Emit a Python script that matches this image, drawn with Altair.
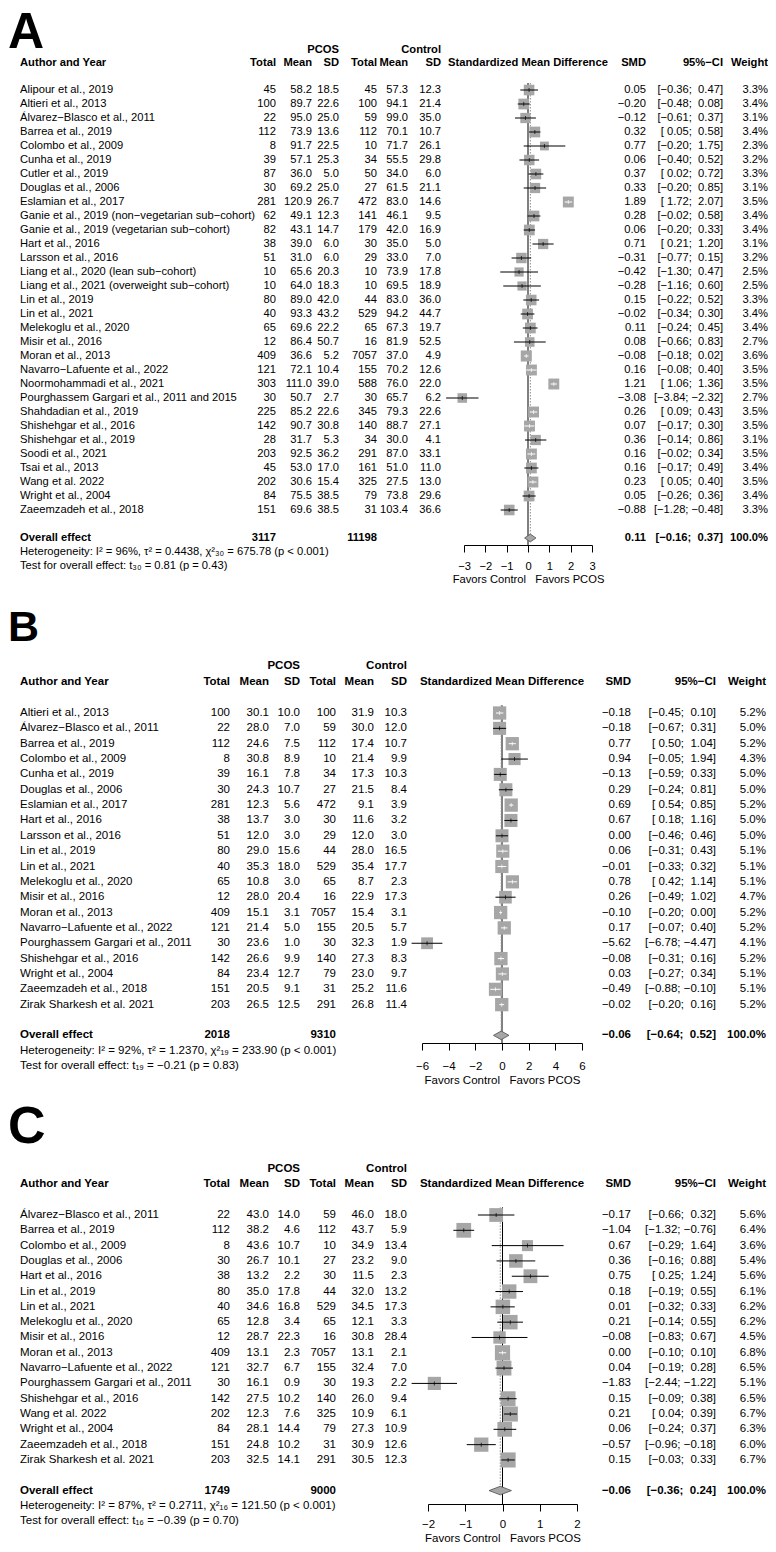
import math
import altair as alt
import pandas as pd

FONT = "Liberation Sans"
LETTER_FONT = "Liberation Sans"
M = "\u2212"
GRAY = "#a6a6a6"
NB = "\u00a0"

# ---------------- Panel A ----------------
A_names = ["Alipour et al., 2019", "Altieri et al., 2013", "Álvarez−Blasco et al., 2011", "Barrea et al., 2019",
           "Colombo et al., 2009", "Cunha et al., 2019", "Cutler et al., 2019", "Douglas et al., 2006",
           "Eslamian et al., 2017", "Ganie et al., 2019 (non−vegetarian sub−cohort)",
           "Ganie et al., 2019 (vegetarian sub−cohort)", "Hart et al., 2016", "Larsson et al., 2016",
           "Liang et al., 2020 (lean sub−cohort)", "Liang et al., 2021 (overweight sub−cohort)", "Lin et al., 2019",
           "Lin et al., 2021", "Melekoglu et al., 2020", "Misir et al., 2016", "Moran et al., 2013",
           "Navarro−Lafuente et al., 2022", "Noormohammadi et al., 2021",
           "Pourghassem Gargari et al., 2011 and 2015", "Shahdadian et al., 2019", "Shishehgar et al., 2016",
           "Shishehgar et al., 2019", "Soodi et al., 2021", "Tsai et al., 2013", "Wang et al. 2022",
           "Wright et al., 2004", "Zaeemzadeh et al., 2018"]
A_pcos_n = [45, 100, 22, 112, 8, 39, 87, 30, 281, 62, 82, 38, 51, 10, 10, 80, 40, 65, 12, 409, 121, 303, 30, 225, 142, 28, 203, 45, 202, 84, 151]
A_pcos_mean = [58.2, 89.7, 95.0, 73.9, 91.7, 57.1, 36.0, 69.2, 120.9, 49.1, 43.1, 39.0, 31.0, 65.6, 64.0, 89.0, 93.3, 69.6, 86.4, 36.6, 72.1, 111.0, 50.7, 85.2, 90.7, 31.7, 92.5, 53.0, 30.6, 75.5, 69.6]
A_pcos_sd = [18.5, 22.6, 25.0, 13.6, 22.5, 25.3, 5.0, 25.0, 26.7, 12.3, 14.7, 6.0, 6.0, 20.3, 18.3, 42.0, 43.2, 22.2, 50.7, 5.2, 10.4, 39.0, 2.7, 22.6, 30.8, 5.3, 36.2, 17.0, 15.4, 38.5, 38.5]
A_ctrl_n = [45, 100, 59, 112, 10, 34, 50, 27, 472, 141, 179, 30, 29, 10, 10, 44, 529, 65, 16, 7057, 155, 588, 30, 345, 140, 34, 291, 161, 325, 79, 31]
A_ctrl_mean = [57.3, 94.1, 99.0, 70.1, 71.7, 55.5, 34.0, 61.5, 83.0, 46.1, 42.0, 35.0, 33.0, 73.9, 69.5, 83.0, 94.2, 67.3, 81.9, 37.0, 70.2, 76.0, 65.7, 79.3, 88.7, 30.0, 87.0, 51.0, 27.5, 73.8, 103.4]
A_ctrl_sd = [12.3, 21.4, 35.0, 10.7, 26.1, 29.8, 6.0, 21.1, 14.6, 9.5, 16.9, 5.0, 7.0, 17.8, 18.9, 36.0, 44.7, 19.7, 52.5, 4.9, 12.6, 22.0, 6.2, 22.6, 27.1, 4.1, 33.1, 11.0, 13.0, 29.6, 36.6]
A_smd = [0.05, -0.20, -0.12, 0.32, 0.77, 0.06, 0.37, 0.33, 1.89, 0.28, 0.06, 0.71, -0.31, -0.42, -0.28, 0.15, -0.02, 0.11, 0.08, -0.08, 0.16, 1.21, -3.08, 0.26, 0.07, 0.36, 0.16, 0.16, 0.23, 0.05, -0.88]
A_lo = [-0.36, -0.48, -0.61, 0.05, -0.20, -0.40, 0.02, -0.20, 1.72, -0.02, -0.20, 0.21, -0.77, -1.30, -1.16, -0.22, -0.34, -0.24, -0.66, -0.18, -0.08, 1.06, -3.84, 0.09, -0.17, -0.14, -0.02, -0.17, 0.05, -0.26, -1.28]
A_hi = [0.47, 0.08, 0.37, 0.58, 1.75, 0.52, 0.72, 0.85, 2.07, 0.58, 0.33, 1.20, 0.15, 0.47, 0.60, 0.52, 0.30, 0.45, 0.83, 0.02, 0.40, 1.36, -2.32, 0.43, 0.30, 0.86, 0.34, 0.49, 0.40, 0.36, -0.48]
A_weight = [3.3, 3.4, 3.1, 3.4, 2.3, 3.2, 3.3, 3.1, 3.5, 3.4, 3.4, 3.1, 3.2, 2.5, 2.5, 3.3, 3.4, 3.4, 2.7, 3.6, 3.5, 3.5, 2.7, 3.5, 3.5, 3.1, 3.5, 3.4, 3.5, 3.4, 3.3]
A_overall = [0.11, -0.16, 0.37]
A_totals = [3117, 11198]
A_het = "Heterogeneity: I² = 96%, τ² = 0.4438, χ²₃₀ = 675.78 (p < 0.001)"
A_test = "Test for overall effect: t₃₀ = 0.81 (p = 0.43)"
A_ticks = [-3, -2, -1, 0, 1, 2, 3]

# ---------------- Panel B ----------------
B_names = ["Altieri et al., 2013", "Álvarez−Blasco et al., 2011", "Barrea et al., 2019", "Colombo et al., 2009",
           "Cunha et al., 2019", "Douglas et al., 2006", "Eslamian et al., 2017", "Hart et al., 2016",
           "Larsson et al., 2016", "Lin et al., 2019", "Lin et al., 2021", "Melekoglu et al., 2020",
           "Misir et al., 2016", "Moran et al., 2013", "Navarro−Lafuente et al., 2022",
           "Pourghassem Gargari et al., 2011", "Shishehgar et al., 2016", "Wright et al., 2004",
           "Zaeemzadeh et al., 2018", "Zirak Sharkesh et al. 2021"]
B_pcos_n = [100, 22, 112, 8, 39, 30, 281, 38, 51, 80, 40, 65, 12, 409, 121, 30, 142, 84, 151, 203]
B_pcos_mean = [30.1, 28.0, 24.6, 30.8, 16.1, 24.3, 12.3, 13.7, 12.0, 29.0, 35.3, 10.8, 28.0, 15.1, 21.4, 23.6, 26.6, 23.4, 20.5, 26.5]
B_pcos_sd = [10.0, 7.0, 7.5, 8.9, 7.8, 10.7, 5.6, 3.0, 3.0, 15.6, 18.0, 3.0, 20.4, 3.1, 5.0, 1.0, 9.9, 12.7, 9.1, 12.5]
B_ctrl_n = [100, 59, 112, 10, 34, 27, 472, 30, 29, 44, 529, 65, 16, 7057, 155, 30, 140, 79, 31, 291]
B_ctrl_mean = [31.9, 30.0, 17.4, 21.4, 17.3, 21.5, 9.1, 11.6, 12.0, 28.0, 35.4, 8.7, 22.9, 15.4, 20.5, 32.3, 27.3, 23.0, 25.2, 26.8]
B_ctrl_sd = [10.3, 12.0, 10.7, 9.9, 10.3, 8.4, 3.9, 3.2, 3.0, 16.5, 17.7, 2.3, 17.3, 3.1, 5.7, 1.9, 8.3, 9.7, 11.6, 11.4]
B_smd = [-0.18, -0.18, 0.77, 0.94, -0.13, 0.29, 0.69, 0.67, 0.00, 0.06, -0.01, 0.78, 0.26, -0.10, 0.17, -5.62, -0.08, 0.03, -0.49, -0.02]
B_lo = [-0.45, -0.67, 0.50, -0.05, -0.59, -0.24, 0.54, 0.18, -0.46, -0.31, -0.33, 0.42, -0.49, -0.20, -0.07, -6.78, -0.31, -0.27, -0.88, -0.20]
B_hi = [0.10, 0.31, 1.04, 1.94, 0.33, 0.81, 0.85, 1.16, 0.46, 0.43, 0.32, 1.14, 1.02, 0.00, 0.40, -4.47, 0.16, 0.34, -0.10, 0.16]
B_weight = [5.2, 5.0, 5.2, 4.3, 5.0, 5.0, 5.2, 5.0, 5.0, 5.1, 5.1, 5.1, 4.7, 5.2, 5.2, 4.1, 5.2, 5.1, 5.1, 5.2]
B_overall = [-0.06, -0.64, 0.52]
B_totals = [2018, 9310]
B_het = "Heterogeneity: I² = 92%, τ² = 1.2370, χ²₁₉ = 233.90 (p < 0.001)"
B_test = "Test for overall effect: t₁₉ = −0.21 (p = 0.83)"
B_ticks = [-6, -4, -2, 0, 2, 4, 6]

# ---------------- Panel C ----------------
C_names = ["Álvarez−Blasco et al., 2011", "Barrea et al., 2019", "Colombo et al., 2009", "Douglas et al., 2006",
           "Hart et al., 2016", "Lin et al., 2019", "Lin et al., 2021", "Melekoglu et al., 2020",
           "Misir et al., 2016", "Moran et al., 2013", "Navarro−Lafuente et al., 2022",
           "Pourghassem Gargari et al., 2011", "Shishehgar et al., 2016", "Wang et al. 2022",
           "Wright et al., 2004", "Zaeemzadeh et al., 2018", "Zirak Sharkesh et al. 2021"]
C_pcos_n = [22, 112, 8, 30, 38, 80, 40, 65, 12, 409, 121, 30, 142, 202, 84, 151, 203]
C_pcos_mean = [43.0, 38.2, 43.6, 26.7, 13.2, 35.0, 34.6, 12.8, 28.7, 13.1, 32.7, 16.1, 27.5, 12.3, 28.1, 24.8, 32.5]
C_pcos_sd = [14.0, 4.6, 10.7, 10.1, 2.2, 17.8, 16.8, 3.4, 22.3, 2.3, 6.7, 0.9, 10.2, 7.6, 14.4, 10.2, 14.1]
C_ctrl_n = [59, 112, 10, 27, 30, 44, 529, 65, 16, 7057, 155, 30, 140, 325, 79, 31, 291]
C_ctrl_mean = [46.0, 43.7, 34.9, 23.2, 11.5, 32.0, 34.5, 12.1, 30.8, 13.1, 32.4, 19.3, 26.0, 10.9, 27.3, 30.9, 30.5]
C_ctrl_sd = [18.0, 5.9, 13.4, 9.0, 2.3, 13.2, 17.3, 3.3, 28.4, 2.1, 7.0, 2.2, 9.4, 6.1, 10.9, 12.6, 12.3]
C_smd = [-0.17, -1.04, 0.67, 0.36, 0.75, 0.18, 0.01, 0.21, -0.08, 0.00, 0.04, -1.83, 0.15, 0.21, 0.06, -0.57, 0.15]
C_lo = [-0.66, -1.32, -0.29, -0.16, 0.25, -0.19, -0.32, -0.14, -0.83, -0.10, -0.19, -2.44, -0.09, 0.04, -0.24, -0.96, -0.03]
C_hi = [0.32, -0.76, 1.64, 0.88, 1.24, 0.55, 0.33, 0.55, 0.67, 0.10, 0.28, -1.22, 0.38, 0.39, 0.37, -0.18, 0.33]
C_weight = [5.6, 6.4, 3.6, 5.4, 5.6, 6.1, 6.2, 6.2, 4.5, 6.8, 6.5, 5.1, 6.5, 6.7, 6.3, 6.0, 6.7]
C_overall = [-0.06, -0.36, 0.24]
C_totals = [1749, 9000]
C_het = "Heterogeneity: I² = 87%, τ² = 0.2711, χ²₁₆ = 121.50 (p < 0.001)"
C_test = "Test for overall effect: t₁₆ = −0.39 (p = 0.70)"
C_ticks = [-2, -1, 0, 1, 2]

HEADS = ["Author and Year", "Total", "Mean", "SD", "Total", "Mean", "SD", "SMD", "95%" + M + "CI", "Weight"]
KEYS = ["name", "pn", "pm", "ps", "cn", "cm", "cs", "smd_t", "ci_t", "w_t"]

LAY_A = dict(fs=11.2, H=537, row0=82, sp=14.0, hdr=-1.93, grp=-2.86, lsize=50, lrow=None,
             xdom=[-3, 3], xrange=[456, 584], cols=[12, 268, 304, 331, 369, 400, 433, 638, 715, 760],
             smdh=520, coef=34, tick=7, lp=8, tp=2)
LAY_B = dict(fs=11.5, H=480, row0=150, sp=15.35, hdr=-2.02, grp=-3.06, lsize=43, lrow=-5.52,
             xdom=[-6, 6], xrange=[414, 574], cols=[12, 222, 261, 292, 328, 366, 399, 623, 708, 758],
             smdh=494, coef=29, tick=7, lp=10, tp=3)
LAY_C = dict(fs=11.5, H=443, row0=154, sp=15.31, hdr=-2.02, grp=-3.0, lsize=52, lrow=-5.76,
             xdom=[-2, 2], xrange=[420, 569], cols=[12, 222, 261, 292, 328, 366, 399, 623, 708, 758],
             smdh=494, coef=26, tick=7, lp=7, tp=3)


def fmt(v, d):
    return f"{v:.{d}f}".replace("-", M)


def ci_str(lo, hi):
    return "[" + fmt(lo, 2).rjust(5, NB) + "; " + fmt(hi, 2).rjust(5, NB) + "]"


def panel(letter, L, names, pn, pm, ps, cn, cm, cs, smd, lo, hi, wt, overall, totals, het, test, ticks):
    fs, H, sp, row0 = L["fs"], L["H"], L["sp"], L["row0"]
    n = len(names)
    R = n + 1
    d0 = -row0 / sp
    d1 = (H - row0) / sp
    ysc = alt.Scale(domain=[d0, d1], range=[0, H], nice=False, zero=False)
    xsc = alt.Scale(domain=L["xdom"], range=L["xrange"], nice=False, zero=False)
    axis = alt.Axis(values=ticks, format="d", title="Favors Control" + NB * 3 + "Favors PCOS", grid=False,
                    domainColor="black", domainWidth=1, tickColor="black", tickWidth=1, tickSize=L["tick"],
                    labelPadding=L["lp"], labelFont=FONT, labelFontSize=fs, labelColor="black",
                    labelFlush=False, labelOverlap=False, titleFont=FONT, titleFontSize=fs,
                    titleFontWeight="normal", titleColor="black", titlePadding=L["tp"])

    def X(f):
        return alt.X(f"{f}:Q", scale=xsc, axis=axis)

    def Y(f):
        return alt.Y(f"{f}:Q", scale=ysc, axis=None)

    pxu = (L["xrange"][1] - L["xrange"][0]) / (L["xdom"][1] - L["xdom"][0])
    lcol = []
    for e, a, b, w in zip(smd, lo, hi, wt):
        half = math.sqrt(L["coef"] * w) / 2
        lcol.append("white" if ((e - a) * pxu <= half and (b - e) * pxu <= half) else "black")

    tab = pd.DataFrame({
        "r": list(range(n)), "name": names,
        "pn": [str(v) for v in pn], "pm": [fmt(v, 1) for v in pm], "ps": [fmt(v, 1) for v in ps],
        "cn": [str(v) for v in cn], "cm": [fmt(v, 1) for v in cm], "cs": [fmt(v, 1) for v in cs],
        "smd_t": [fmt(v, 2) for v in smd], "ci_t": [ci_str(a, b) for a, b in zip(lo, hi)],
        "w_t": [fmt(v, 1) + "%" for v in wt],
        "smd": smd, "lo": lo, "hi": hi, "w": wt, "lc": lcol})

    def label(t, r, px, al, bold, size=None, font=FONT, baseline="middle"):
        return alt.Chart(pd.DataFrame({"t": [t], "r": [r]})).mark_text(
            align=al, baseline=baseline, fontSize=size or fs, font=font,
            fontWeight="bold" if bold else "normal", color="black").encode(
            x=alt.value(px), y=Y("r"), text="t:N")

    layers = []
    layers.append(alt.Chart(pd.DataFrame({"x": [0], "r": [-0.5]})).mark_rule(color="black", strokeWidth=1)
                  .encode(x=X("x"), y=Y("r"), y2=alt.value(H)))
    layers.append(alt.Chart(pd.DataFrame({"x": [overall[0]], "r": [-0.5], "r2": [R - 0.3]}))
                  .mark_rule(color="#8c8c8c", strokeWidth=1, strokeDash=[1.5, 1.5])
                  .encode(x=X("x"), y=Y("r"), y2=alt.Y2("r2:Q")))
    layers.append(alt.Chart(tab).mark_square(filled=True, color=GRAY, opacity=1, strokeWidth=0).encode(
        x=X("smd"), y=Y("r"),
        size=alt.Size("w:Q", scale=alt.Scale(type="linear", domain=[0, 10], range=[0, 10 * L["coef"]]), legend=None)))
    layers.append(alt.Chart(tab).mark_rule(strokeWidth=1).encode(
        x=X("lo"), x2=alt.X2("hi:Q"), y=Y("r"), color=alt.Color("lc:N", scale=None)))
    layers.append(alt.Chart(tab).mark_tick(orient="vertical", size=4, thickness=1).encode(
        x=X("smd"), y=Y("r"), color=alt.Color("lc:N", scale=None)))
    h = 0.28
    dia = pd.DataFrame({"x": [overall[1], overall[0], overall[2]],
                        "y": [R, R - h, R], "y2": [R, R + h, R]})
    layers.append(alt.Chart(dia).mark_area(orient="vertical", fill=GRAY, stroke="#4d4d4d", strokeWidth=0.8,
                                           opacity=1).encode(x=X("x"), y=Y("y"), y2=alt.Y2("y2:Q")))

    for k, hd, px in zip(KEYS, HEADS, L["cols"]):
        al = "left" if k == "name" else "right"
        layers.append(alt.Chart(tab).mark_text(align=al, baseline="middle", fontSize=fs, font=FONT,
                                               color="black").encode(x=alt.value(px), y=Y("r"), text=f"{k}:N"))
        layers.append(label(hd, L["hdr"], px, al, True))
    cols = L["cols"]
    layers.append(label("Standardized Mean Difference", L["hdr"], L["smdh"], "center", True))
    layers.append(label("PCOS", L["grp"], cols[3], "right", True))
    layers.append(label("Control", L["grp"], cols[6], "right", True))
    layers.append(label("Overall effect", R, cols[0], "left", True))
    layers.append(label(str(totals[0]), R, cols[1], "right", True))
    layers.append(label(str(totals[1]), R, cols[4], "right", True))
    layers.append(label(fmt(overall[0], 2), R, cols[7], "right", True))
    layers.append(label(ci_str(overall[1], overall[2]), R, cols[8], "right", True))
    layers.append(label("100.0%", R, cols[9], "right", True))
    layers.append(label(het, R + 1, cols[0], "left", False))
    layers.append(label(test, R + 2, cols[0], "left", False))
    if L["lrow"] is None:
        layers.append(label(letter, d0, 0, "left", True, size=L["lsize"], font=LETTER_FONT, baseline="top"))
    else:
        layers.append(label(letter, L["lrow"], 0, "left", True, size=L["lsize"], font=LETTER_FONT))

    return alt.layer(*layers).properties(width=760, height=H)


pa = panel("A", LAY_A, A_names, A_pcos_n, A_pcos_mean, A_pcos_sd, A_ctrl_n, A_ctrl_mean, A_ctrl_sd,
           A_smd, A_lo, A_hi, A_weight, A_overall, A_totals, A_het, A_test, A_ticks)
pb = panel("B", LAY_B, B_names, B_pcos_n, B_pcos_mean, B_pcos_sd, B_ctrl_n, B_ctrl_mean, B_ctrl_sd,
           B_smd, B_lo, B_hi, B_weight, B_overall, B_totals, B_het, B_test, B_ticks)
pc = panel("C", LAY_C, C_names, C_pcos_n, C_pcos_mean, C_pcos_sd, C_ctrl_n, C_ctrl_mean, C_ctrl_sd,
           C_smd, C_lo, C_hi, C_weight, C_overall, C_totals, C_het, C_test, C_ticks)

chart = alt.vconcat(pa, pb, pc, spacing=18, bounds="flush").properties(padding=0).configure_view(stroke=None)
chart.save("out.html", embed_options={"renderer": "svg", "actions": False})
